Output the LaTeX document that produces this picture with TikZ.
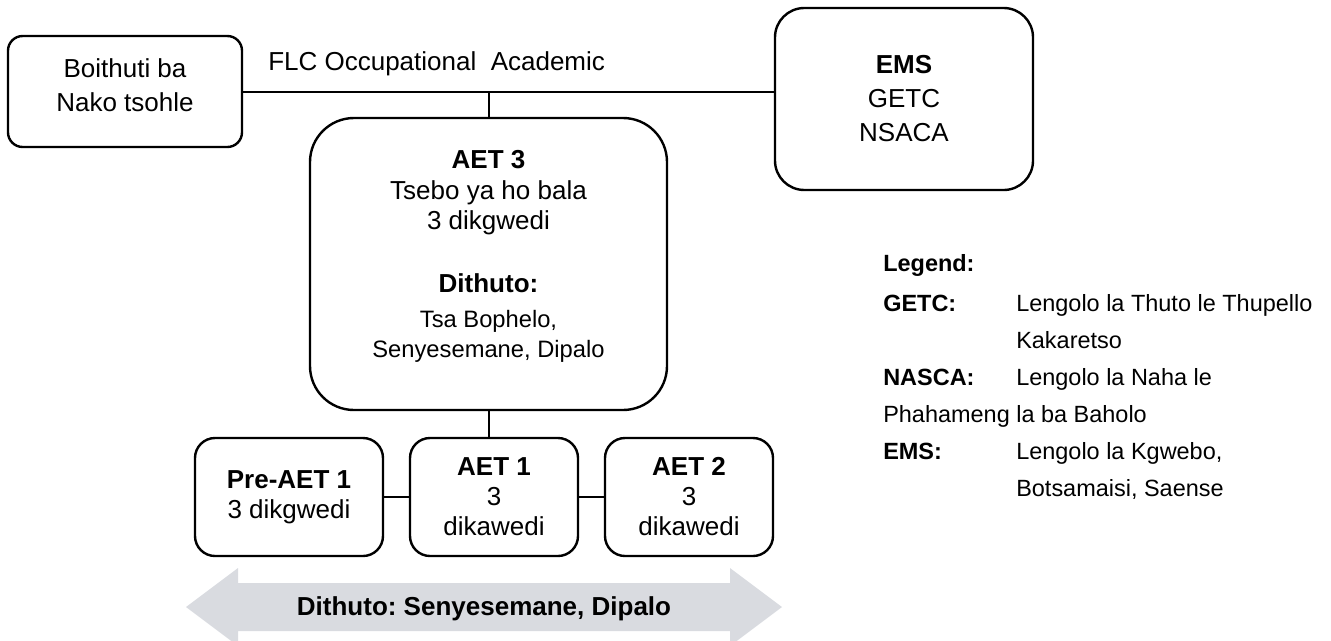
\documentclass[tikz,border=0pt]{standalone}
\usepackage{fontspec}
\setmainfont{Liberation Sans}
\frenchspacing
\definecolor{arrowgray}{RGB}{217,219,224}
\begin{document}
\begin{tikzpicture}[x=0.75pt,y=-0.75pt,
  box/.style={draw=black, line width=1.8pt, align=center, inner sep=0pt,
    font=\fontsize{19.5}{25.5}\selectfont},
  conn/.style={line width=1.5pt},
  legtxt/.style={anchor=base west, inner sep=0pt, font=\fontsize{17.6}{21}\selectfont},
  legbold/.style={legtxt, font=\fontsize{17.6}{21}\selectfont\bfseries}]
\useasboundingbox (0,0) rectangle (1331,640);
\clip (0,0) rectangle (1331,640);

% boxes
\node[box, rounded corners=11pt, minimum width=175.5pt, minimum height=83.25pt] (boit) at (125,91.5) {Boithuti ba\\Nako tsohle\\[-16pt]};
\node[box, rounded corners=22pt, minimum width=193.5pt, minimum height=136.5pt] (ems) at (904,99) {\textbf{EMS}\\GETC\\NSACA};
\node[box, rounded corners=33pt, minimum width=267.75pt, minimum height=219pt,
  font=\fontsize{19.5}{23}\selectfont] (aet3) at (488.5,264)
  {\textbf{AET 3}\\Tsebo ya ho bala\\3 dikgwedi\\[24pt]\textbf{Dithuto:}\\[3pt]{\fontsize{17.8}{23}\selectfont Tsa Bophelo,}\\{\fontsize{17.8}{23}\selectfont Senyesemane, Dipalo}\\[-8pt]};
\node[box, rounded corners=15pt, minimum width=141pt, minimum height=88.5pt,
  font=\fontsize{19.5}{22.5}\selectfont] (pre) at (289,497) {\textbf{Pre-AET 1}\\3 dikgwedi};
\node[box, rounded corners=15pt, minimum width=126pt, minimum height=88.5pt,
  font=\fontsize{19.5}{22.5}\selectfont] (aet1) at (494,497) {\textbf{AET 1}\\3\\dikawedi};
\node[box, rounded corners=15pt, minimum width=126pt, minimum height=88.5pt,
  font=\fontsize{19.5}{22.5}\selectfont] (aet2) at (689,497) {\textbf{AET 2}\\3\\dikawedi};

% top label
\node[anchor=base west, inner sep=0pt, font=\fontsize{19.5}{23}\selectfont] (flc) at (268,70) {FLC Occupational\ \ Academic};

% connectors
\coordinate (junc) at (aet3.north |- boit.east);
\draw[conn] (boit.east) -- (boit.east -| ems.west);
\draw[conn] (aet3.north) -- (junc);
\draw[conn] (aet3.south) -- (aet3.south |- aet1.north);
\draw[conn] (pre.east) -- (aet1.west);
\draw[conn] (aet1.east) -- (aet2.west);

% double arrow
\fill[arrowgray] (186,607) -- (238,568) -- (238,583) -- (730,583) -- (730,568) -- (782,607)
  -- (730,646) -- (730,631) -- (238,631) -- (238,646) -- cycle;
\node[inner sep=0pt, font=\fontsize{19.5}{23}\selectfont\bfseries] (arrtxt) at (484,609) {Dithuto: Senyesemane, Dipalo};

% legend
\node[legbold] (leg) at (883,271) {Legend:};
\node[legbold] (lg1) at (883,311) {GETC:};
\node[legtxt] (ld1) at (1016,311) {Lengolo la Thuto le Thupello};
\node[legtxt] (ld1b) at (1016,348) {Kakaretso};
\node[legbold] (lg2) at (883,385) {NASCA:};
\node[legtxt] (ld2) at (1016,385) {Lengolo la Naha le};
\node[legtxt] (ld2b) at (883,422) {Phahameng la ba Baholo};
\node[legbold] (lg3) at (883,459) {EMS:};
\node[legtxt] (ld3) at (1016,459) {Lengolo la Kgwebo,};
\node[legtxt] (ld3b) at (1016,496) {Botsamaisi, Saense};
\end{tikzpicture}
\end{document}
